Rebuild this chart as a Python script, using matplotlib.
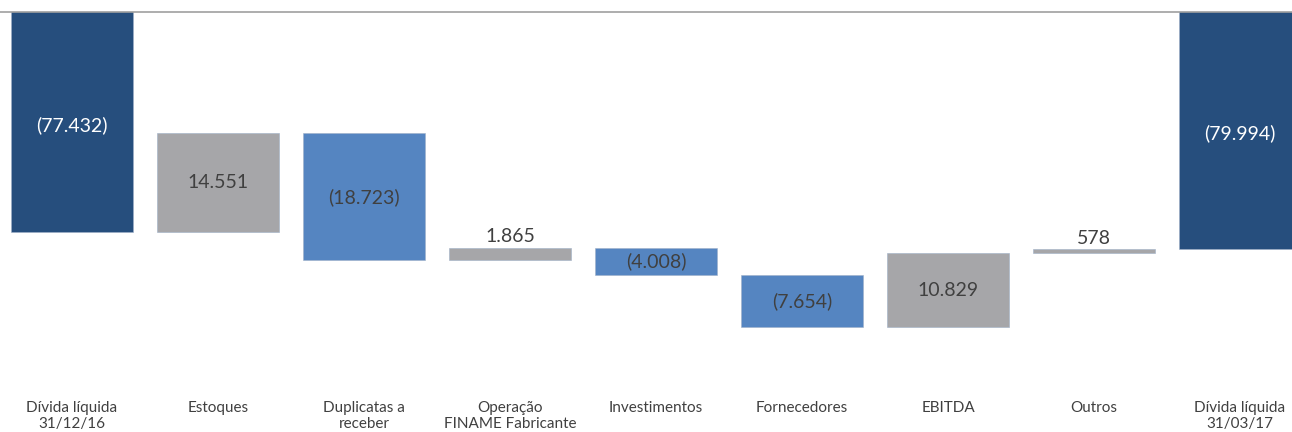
import matplotlib.pyplot as plt
import numpy as np

# dados da ponte da dívida líquida (R$ mil)
categorias = ['Dívida líquida\n31/12/16', 'Estoques', 'Duplicatas a\nreceber',
              'Operação\nFINAME Fabricante', 'Investimentos', 'Fornecedores',
              'EBITDA', 'Outros', 'Dívida líquida\n31/03/17']
variacoes = [14.551, -18.723, 1.865, -4.008, -7.654, 10.829, 0.578]
divida_inicial = -77.432
divida_final = -79.994
rotulos = ['(77.432)', '14.551', '(18.723)', '1.865', '(4.008)', '(7.654)',
           '10.829', '578', '(79.994)']

azul_escuro = '#264E7D'
cinza = '#A6A6A9'
azul = '#5585C1'

plt.rcParams['font.family'] = ['Lato', 'DejaVu Sans']

fig = plt.figure(figsize=(12.92, 4.32), dpi=100)
ax = fig.add_axes([0, 0.0972, 1, 0.8750])

x = np.arange(len(categorias))
largura = 0.83

# bases e alturas do waterfall
niveis = divida_inicial + np.concatenate([[0], np.cumsum(variacoes)])
bases = [0]
alturas = [divida_inicial]
cores = [azul_escuro]
for i, v in enumerate(variacoes):
    bases.append(niveis[i])
    alturas.append(v)
    cores.append(cinza if v > 0 else azul)
bases.append(0)
alturas.append(divida_final)
cores.append(azul_escuro)

ax.bar(x, alturas, bottom=bases, width=largura, color=cores,
       edgecolor='#9fb0c8', linewidth=0.4)

# rótulos de valor
for i in range(len(categorias)):
    topo = bases[i] + alturas[i]
    meio = bases[i] + alturas[i] / 2
    cor_txt = 'white' if cores[i] == azul_escuro else '#404040'
    if i in (0, len(categorias) - 1):
        meio = (-45.08 + topo) / 2 - 0.4
    if abs(alturas[i]) < 3:
        ax.text(x[i], max(bases[i], topo) + 0.4, rotulos[i], ha='center',
                va='bottom', fontsize=14, color='#404040')
    else:
        ax.text(x[i], meio, rotulos[i], ha='center', va='center',
                fontsize=14, color=cor_txt)

ax.set_ylim(-100.67, -45.08)
ax.set_xlim(-0.493, 8.356)
ax.set_xticks(x)
ax.set_xticklabels(categorias, fontsize=11, color='#404040')
ax.tick_params(axis='x', length=0, pad=8)
ax.set_yticks([])
for lado in ['left', 'right', 'bottom']:
    ax.spines[lado].set_visible(False)
ax.spines['top'].set_color('#A0A0A0')
ax.spines['top'].set_linewidth(1.2)

plt.savefig('out.png', dpi=100)
